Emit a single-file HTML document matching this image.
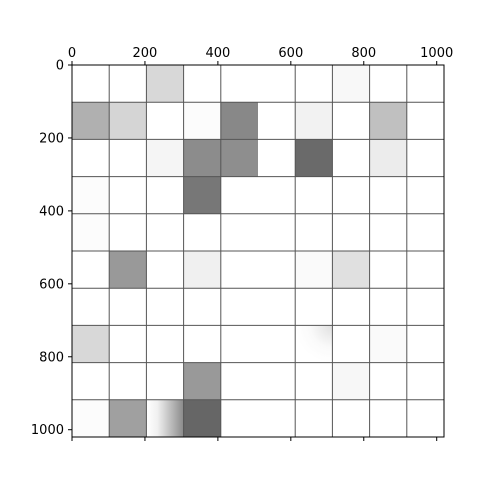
<!DOCTYPE html>
<html><head><meta charset="utf-8"><style>
html,body{margin:0;padding:0;background:#fff;}
svg{display:block;font-family:"DejaVu Sans","Liberation Sans",sans-serif;}
</style></head><body>
<svg id="chart" width="480" height="480" viewBox="0 0 480 480">
<defs>
<linearGradient id="g92" x1="0" x2="1" y1="0" y2="0"><stop offset="0" stop-color="#ffffff"/><stop offset="0.3" stop-color="#f0f0f0"/><stop offset="1" stop-color="#8a8a8a"/></linearGradient>
<radialGradient id="g76" cx="1" cy="0" r="1"><stop offset="0" stop-color="#e0e0e0"/><stop offset="0.6" stop-color="#fafafa"/><stop offset="1" stop-color="#ffffff"/></radialGradient>
</defs>
<g id="cells"></g>
<g id="grid"></g>
<g id="axes"></g>
</svg>
<script>
const cellRows = [0,0,1,1,1,1,1,1,2,2,2,2,2,3,3,4,5,5,5,5,7,7,7,8,8,9,9,9,9];
const cellCols = [2,7,0,1,3,4,6,8,2,3,4,6,8,0,3,0,1,3,6,7,0,6,8,3,7,0,1,2,3];
const cellGray = [216,248,176,213,252,136,242,192,245,140,142,106,236,252,119,252,153,240,250,224,216,0,250,153,247,252,160,-1,102];
const tickVals = [0,200,400,600,800,1000];
const tileSize = 102, nTiles = 10, extent = 1020;
const gridCols = [1,2,3,4,6,7,8,9];

const NS = "http://www.w3.org/2000/svg";
const L = 72, T = 65, W = 372, H = 372;
const sx = v => L + v / extent * W;
const sy = v => T + v / extent * H;
function mk(tag, attrs, parent) {
  const e = document.createElementNS(NS, tag);
  for (const k in attrs) e.setAttribute(k, attrs[k]);
  parent.appendChild(e);
  return e;
}
const cells = document.getElementById('cells');
const grid = document.getElementById('grid');
const axes = document.getElementById('axes');
for (let i = 0; i < cellRows.length; i++) {
  const g = cellGray[i];
  let fill;
  if (g === -1) fill = 'url(#g92)';
  else if (g === 0) fill = 'url(#g76)';
  else fill = `rgb(${g},${g},${g})`;
  const r = mk('rect', {x: sx(cellCols[i] * tileSize), y: sy(cellRows[i] * tileSize), width: sx(tileSize) - sx(0), height: sy(tileSize) - sy(0), fill}, cells);
  
  
}
for (const c of gridCols) {
  const ln = mk('line', {x1: sx(c * tileSize), x2: sx(c * tileSize), y1: T, y2: T + H, stroke: '#555', 'stroke-width': 1}, grid);
  
  
}
for (let r = 1; r < nTiles; r++) {
  const ln = mk('line', {x1: L, x2: L + W, y1: sy(r * tileSize), y2: sy(r * tileSize), stroke: '#555', 'stroke-width': 1}, grid);
  
  
}
const frame = mk('rect', {x: L, y: T, width: W, height: H, fill: 'none', stroke: '#000', 'stroke-width': 1}, axes);


for (const v of tickVals) {
  const x = sx(v);
  const tk = mk('line', {x1: x, x2: x, y1: T, y2: T - 4, stroke: '#000', 'stroke-width': 1}, axes);
  
  
  const tb = mk('line', {x1: x, x2: x, y1: T + H, y2: T + H + 4, stroke: '#000', 'stroke-width': 1}, axes);
  
  
  const tx = mk('text', {x: x, y: T - 8, 'text-anchor': 'middle', 'font-size': 13, fill: '#000'}, axes);
  tx.textContent = v;
  
  
  const y = sy(v);
  const ty = mk('line', {x1: L, x2: L - 4, y1: y, y2: y, stroke: '#000', 'stroke-width': 1}, axes);
  
  
  const yl = mk('text', {x: L - 8, y: y + 4.5, 'text-anchor': 'end', 'font-size': 13, fill: '#000'}, axes);
  yl.textContent = v;
  
  
}
</script>
</body></html>
